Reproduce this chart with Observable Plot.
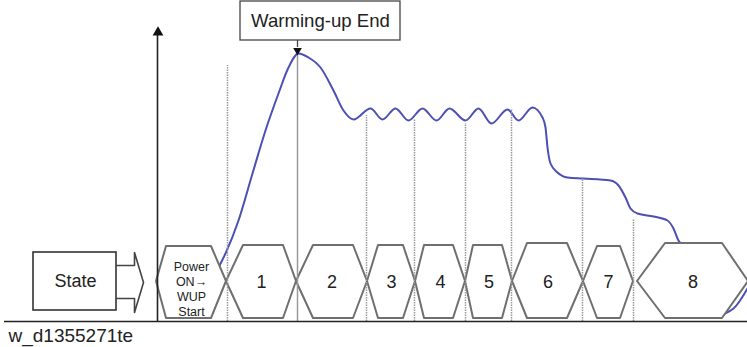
<!DOCTYPE html>
<html>
<head>
<meta charset="utf-8">
<script src="https://cdn.jsdelivr.net/npm/d3@7"></script>
<script src="https://cdn.jsdelivr.net/npm/@observablehq/plot@0.6"></script>
<style>
  html, body { margin: 0; padding: 0; background: #fff; }
  #chart svg { display: block; }
</style>
</head>
<body>
<div id="chart"></div>
<script>
// ---- data (time along x, level above the time base) ----
// temperature curve samples
const curveTime  = [206, 218, 225, 238, 252, 265, 278, 288, 298, 308, 320, 333, 343, 353, 370, 382, 395, 408, 422, 436, 449, 465, 478, 491, 507, 518, 532, 542, 545, 547, 550, 557, 567, 583, 610, 618, 625, 630, 637, 653, 667, 673, 678, 682, 700, 718, 733, 747];
const curveLevel = [ 30,  54,  68, 101, 148, 191, 228, 254, 268, 264, 254, 231, 211, 202, 213, 202, 213, 201, 213, 201, 213, 201, 213, 198, 212, 201, 214, 204, 194, 174, 158, 149, 144, 143, 141, 136, 124, 113, 108, 105, 101,  93,  81,  76,  31,   7,  13,  33];

// state boundaries (vertical markers) and their heights
const boundaryTime  = [227, 297, 366, 414, 465, 511, 582, 633];
const boundaryLevel = [256, 266, 206, 202, 198, 212, 143, 102];
const boundarySolid = [false, true, false, false, false, false, false, false];

// states
const stateNames    = ["Power\nON\u2192\nWUP\nStart", "1", "2", "3", "4", "5", "6", "7", "8"];
const stateStart    = [156, 226, 296, 367, 415, 465, 512, 583, 637];
const stateRampIn   = [166, 243, 313, 378, 424, 473, 527, 597, 665];
const stateRampOut  = [211, 283, 353, 403, 453, 502, 567, 620, 722];
const stateEnd      = [226, 296, 367, 415, 465, 512, 583, 633, 748];
const stateTop      = [ 75,  76,  76,  76,  76,  76,  78,  75,  78];
const stateMid = 40, stateBottom = 3;

const peakLabel = "Warming-up End";
const stateLabel = "State";
const figureId = "w_d1355271te";

// ---- build tables ----
const curveRows = curveTime.map((t, i) => ({t, v: curveLevel[i]}));
const boundaryRows = boundaryTime.map((t, i) => ({t, v: boundaryLevel[i], solid: boundarySolid[i]}));
const hexRows = [];
stateNames.forEach((name, i) => {
  hexRows.push({s: i, t: stateStart[i],   lo: stateMid,    hi: stateMid});
  hexRows.push({s: i, t: stateRampIn[i],  lo: stateBottom, hi: stateTop[i]});
  hexRows.push({s: i, t: stateRampOut[i], lo: stateBottom, hi: stateTop[i]});
  hexRows.push({s: i, t: stateEnd[i],     lo: stateMid,    hi: stateMid});
});
const hexLabels = stateNames.map((name, i) => ({
  t: (stateStart[i] + stateEnd[i]) / 2, name, small: i === 0
}));
const arrowShape = [
  {t: 116, v: 56}, {t: 134, v: 56}, {t: 134, v: 69}, {t: 143, v: 39},
  {t: 134, v: 9}, {t: 134, v: 23}, {t: 116, v: 23}
];

const FONT = "Liberation Sans, Arial, Helvetica, sans-serif";

const chart = Plot.plot({
  width: 747,
  height: 347,
  margin: 0,
  style: {fontFamily: FONT, background: "#fff", overflow: "visible"},
  x: {domain: [0, 747], range: [0, 747], axis: null},
  y: {domain: [-26, 321], range: [347, 0], axis: null},
  marks: [
    // curve (goes behind the state hexagons)
    Plot.line(curveRows, {x: "t", y: "v", curve: "monotone-x", stroke: "#4c50b4", strokeWidth: 2}),
    // state hexagons
    Plot.areaY(hexRows, {x: "t", y1: "lo", y2: "hi", z: "s", fill: "white", stroke: "#6f6f6f", strokeWidth: 2, curve: "linear"}),
    // boundary markers
    Plot.ruleX(boundaryRows.filter(d => !d.solid), {x: "t", y1: 0, y2: "v", stroke: "#999", strokeWidth: 1.5, strokeDasharray: "1.5,1"}),
    Plot.ruleX(boundaryRows.filter(d => d.solid), {x: "t", y1: 0, y2: "v", stroke: "#9a9a9a", strokeWidth: 1.5}),
    // time base
    Plot.ruleY([0], {x1: 4, x2: 747, stroke: "#222", strokeWidth: 1.6}),
    // vertical axis with arrow
    Plot.ruleX([157], {y1: 0, y2: 286, stroke: "#222", strokeWidth: 1.6}),
    Plot.dot([{t: 157.5, v: 289}], {x: "t", y: "v", symbol: "triangle", r: 4, fill: "#111", stroke: "none"}),
    // hexagon labels
    Plot.text(hexLabels.filter(d => !d.small), {x: "t", y: 39, text: "name", fontSize: 18, fill: "#222"}),
    Plot.text(hexLabels.filter(d => d.small), {x: "t", y: 33, text: "name", fontSize: 12.5, lineHeight: 1.22, fill: "#222"}),
    // State box and arrow
    Plot.rect([{x1: 33, x2: 116, y1: 11, y2: 69}], {x1: "x1", x2: "x2", y1: "y1", y2: "y2", fill: "white", stroke: "#333", strokeWidth: 1.6}),
    Plot.text([stateLabel], {x: 75, y: 40, text: d => d, fontSize: 18, fill: "#222"}),
    Plot.line(arrowShape, {x: "t", y: "v", stroke: "#444", strokeWidth: 1.6, curve: "linear"}),
    // Warming-up End callout
    Plot.rect([{x1: 240, x2: 400, y1: 281, y2: 320}], {x1: "x1", x2: "x2", y1: "y1", y2: "y2", fill: "white", stroke: "#444", strokeWidth: 1.3}),
    Plot.text([peakLabel], {x: 320, y: 300, text: d => d, fontSize: 18.6, fill: "#222"}),
    Plot.ruleX([297], {y1: 281, y2: 274, stroke: "#444", strokeWidth: 1.3}),
    Plot.dot([{t: 297, v: 271}], {x: "t", y: "v", symbol: "triangle", r: 3.2, rotate: 180, fill: "#111", stroke: "none"}),
    // figure id
    Plot.text([figureId], {x: 8, y: -14, text: d => d, fontSize: 19, textAnchor: "start", fill: "#222"})
  ]
});
document.getElementById("chart").appendChild(chart);
</script>
</body>
</html>
